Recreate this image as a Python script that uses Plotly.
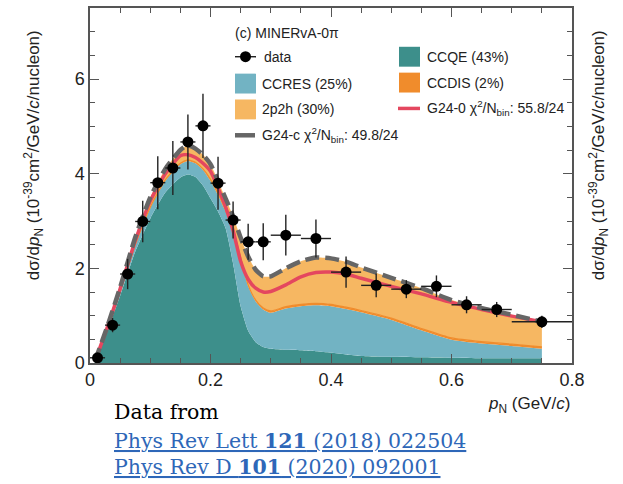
import plotly.graph_objects as go

# ---------------- data ----------------
# MINERvA-0pi data points: bin centres, half widths, values, errors
data_x = [0.0125, 0.0375, 0.0625, 0.0875, 0.1125, 0.1375, 0.1625, 0.1875, 0.2125, 0.2375,
          0.2625, 0.2875, 0.325, 0.375, 0.425, 0.475, 0.525, 0.575, 0.625, 0.675, 0.75]
data_xerr = [0.0125] * 12 + [0.025] * 8 + [0.05]
data_y = [0.11, 0.80, 1.88, 2.99, 3.81, 4.12, 4.67, 5.01, 3.80, 3.02,
          2.56, 2.56, 2.70, 2.63, 1.92, 1.64, 1.56, 1.62, 1.23, 1.13, 0.87]
data_yerr = [0.05, 0.15, 0.32, 0.44, 0.56, 0.57, 0.58, 0.68, 0.56, 0.39,
             0.38, 0.39, 0.43, 0.40, 0.33, 0.25, 0.19, 0.23, 0.18, 0.16, 0.13]

# model curves, stacked boundaries of G24-c
model_x = [0.008, 0.03, 0.05, 0.075, 0.1, 0.125, 0.15, 0.1625, 0.175, 0.1875, 0.2, 0.2125,
           0.225, 0.2375, 0.25, 0.2625, 0.275, 0.2875, 0.3, 0.325, 0.35, 0.375, 0.4, 0.425,
           0.45, 0.5, 0.55, 0.6, 0.65, 0.7, 0.75]
ccqe_top = [0.02, 0.72, 1.42, 2.35, 3.05, 3.6, 3.92, 3.98, 3.93, 3.75, 3.48, 3.2,
            2.85, 2.1, 1.2, 0.68, 0.44, 0.34, 0.3, 0.28, 0.27, 0.25, 0.22, 0.18,
            0.15, 0.13, 0.12, 0.11, 0.1, 0.1, 0.1]
ccres_top = [0.02, 0.75, 1.48, 2.47, 3.27, 3.85, 4.2, 4.27, 4.22, 4.08, 3.85, 3.55,
             3.2, 2.8, 2.2, 1.62, 1.3, 1.13, 1.06, 1.15, 1.2, 1.22, 1.2, 1.14,
             1.07, 0.91, 0.69, 0.49, 0.41, 0.36, 0.3]
ccdis_top = [0.02, 0.76, 1.5, 2.49, 3.29, 3.87, 4.22, 4.29, 4.24, 4.1, 3.88, 3.58,
             3.23, 2.83, 2.23, 1.65, 1.33, 1.16, 1.1, 1.19, 1.24, 1.26, 1.24, 1.18,
             1.11, 0.95, 0.73, 0.53, 0.45, 0.4, 0.34]
g24c_total = [0.03, 0.82, 1.6, 2.65, 3.5, 4.1, 4.5, 4.6, 4.53, 4.4, 4.2, 3.85,
              3.48, 3.1, 2.65, 2.25, 1.97, 1.83, 1.83, 2.0, 2.15, 2.23, 2.21, 2.14,
              2.02, 1.8, 1.58, 1.33, 1.16, 1.02, 0.87]
g240_total = [0.03, 0.8, 1.57, 2.58, 3.42, 4.0, 4.38, 4.4, 4.34, 4.22, 4.05, 3.7,
              3.3, 2.8, 2.15, 1.77, 1.58, 1.5, 1.51, 1.65, 1.82, 1.91, 1.92, 1.88,
              1.79, 1.62, 1.46, 1.28, 1.13, 0.99, 0.87]

x_ticks = [0, 0.2, 0.4, 0.6, 0.8]
x_tick_labels = ["0", "0.2", "0.4", "0.6", "0.8"]
y_ticks = [0, 2, 4, 6]
y_tick_labels = ["0", "2", "4", "6"]

# ---------------- style ----------------
C_QE = "#3d8f8b"
C_RES = "#72b3c3"
C_DIS = "#f08c2c"
C_2P2H = "#f6b762"
C_RED = "#e4475f"
C_GREY = "#666666"
FONT = "Liberation Sans"

W, H = 623, 484
L, R, T, B = 90, 51, 6, 121
PW, PH = W - L - R, H - T - B


def px(x):
    return (x - L) / PW


def py(y):
    return (H - B - y) / PH


fig = go.Figure()
sm = 0.55
fig.add_trace(go.Scatter(x=model_x, y=ccqe_top, mode="lines", line=dict(width=0, shape="spline", smoothing=sm),
                         fill="tozeroy", fillcolor=C_QE, showlegend=False, hoverinfo="skip"))
fig.add_trace(go.Scatter(x=model_x, y=ccres_top, mode="lines", line=dict(width=0, shape="spline", smoothing=sm),
                         fill="tonexty", fillcolor=C_RES, showlegend=False, hoverinfo="skip"))
fig.add_trace(go.Scatter(x=model_x, y=ccdis_top, mode="lines",
                         line=dict(width=1.2, color=C_DIS, shape="spline", smoothing=sm),
                         fill="tonexty", fillcolor=C_DIS, showlegend=False, hoverinfo="skip"))
fig.add_trace(go.Scatter(x=model_x, y=g24c_total, mode="lines", line=dict(width=0, shape="spline", smoothing=sm),
                         fill="tonexty", fillcolor=C_2P2H, showlegend=False, hoverinfo="skip"))
fig.add_trace(go.Scatter(x=model_x, y=g240_total, mode="lines",
                         line=dict(width=3.5, color=C_RED, shape="spline", smoothing=sm),
                         showlegend=False, hoverinfo="skip"))
fig.add_trace(go.Scatter(x=model_x, y=g24c_total, mode="lines",
                         line=dict(width=4.5, color=C_GREY, dash="14px,6px", shape="spline", smoothing=sm),
                         showlegend=False, hoverinfo="skip"))
fig.add_trace(go.Scatter(x=data_x, y=data_y, mode="markers",
                         marker=dict(size=11, color="black"),
                         error_y=dict(type="data", array=data_yerr, color="#222", thickness=1.4, width=0),
                         error_x=dict(type="data", array=data_xerr, color="#222", thickness=1.4, width=0),
                         showlegend=False))

axis_common = dict(showline=True, linecolor="#555", linewidth=1.5, mirror="ticks",
                   ticks="inside", ticklen=9, tickwidth=1.3, tickcolor="#555",
                   showgrid=False, zeroline=False,
                   tickfont=dict(family=FONT, size=18, color="#222"))
fig.update_xaxes(range=[0, 0.8], tickvals=x_ticks, ticktext=x_tick_labels,
                 minor=dict(ticks="inside", ticklen=5, dtick=0.05, tickcolor="#555", tickwidth=1.1),
                 **axis_common)
fig.update_yaxes(range=[0, 7.5], tickvals=y_ticks, ticktext=y_tick_labels,
                 minor=dict(ticks="inside", ticklen=5, dtick=0.5, tickcolor="#555", tickwidth=1.1),
                 **axis_common)

ytitle = "dσ/d<i>p</i><sub>N</sub> (10<sup>-39</sup>cm<sup>2</sup>/GeV/<i>c</i>/nucleon)"
ann = [
    dict(text=ytitle, x=px(33), y=py(154), textangle=-90, showarrow=False, xref="paper", yref="paper",
         font=dict(family=FONT, size=17, color="#222"), xanchor="center", yanchor="middle"),
    dict(text=ytitle, x=px(598), y=py(154), textangle=-90, showarrow=False, xref="paper", yref="paper",
         font=dict(family=FONT, size=17, color="#222"), xanchor="center", yanchor="middle"),
    dict(text="<i>p</i><sub>N</sub> (GeV/<i>c</i>)", x=px(572), y=py(405), showarrow=False,
         xref="paper", yref="paper", xanchor="right", yanchor="middle",
         font=dict(family=FONT, size=17, color="#222")),
    dict(text="Data from", x=px(112), y=py(412), showarrow=False, xref="paper", yref="paper",
         xanchor="left", yanchor="middle", font=dict(family="DejaVu Serif", size=20.5, color="black")),
    dict(text="<u>Phys Rev Lett <b>121</b> (2018) 022504</u>", x=px(112), y=py(441), showarrow=False,
         xref="paper", yref="paper", xanchor="left", yanchor="middle",
         font=dict(family="DejaVu Serif", size=20.5, color="#2e67b8")),
    dict(text="<u>Phys Rev D <b>101</b> (2020) 092001</u>", x=px(112), y=py(468), showarrow=False,
         xref="paper", yref="paper", xanchor="left", yanchor="middle",
         font=dict(family="DejaVu Serif", size=20.5, color="#2e67b8")),
]

# legend (drawn in paper space)
LF = dict(family=FONT, size=14, color="#222")
leg_items = [
    ("(c) MINERvA-0π", 233, 31),
    ("data", 262, 55),
    ("CCRES (25%)", 260, 82),
    ("2p2h (30%)", 260, 108),
    ("G24-c χ<sup>2</sup>/N<sub>bin</sub>: 49.8/24", 260, 134),
    ("CCQE (43%)", 425, 55),
    ("CCDIS (2%)", 425, 81),
    ("G24-0 χ<sup>2</sup>/N<sub>bin</sub>: 55.8/24", 425, 107),
]
for t, xx, yy in leg_items:
    ann.append(dict(text=t, x=px(xx), y=py(yy), showarrow=False, xref="paper", yref="paper",
                    xanchor="left", yanchor="middle", font=LF))

shapes = []


def square(x0, yc, color):
    shapes.append(dict(type="rect", xref="paper", yref="paper", x0=px(x0), x1=px(x0 + 21),
                       y0=py(yc + 10), y1=py(yc - 10), fillcolor=color, line=dict(width=0)))


square(235, 82, C_RES)
square(235, 108, C_2P2H)
square(399, 55, C_QE)
square(399, 81, C_DIS)
shapes.append(dict(type="line", xref="paper", yref="paper", x0=px(235), x1=px(256), y0=py(55), y1=py(55),
                   line=dict(color="#222", width=1.4)))
shapes.append(dict(type="circle", xref="paper", yref="paper", x0=px(240), x1=px(251), y0=py(60.5), y1=py(49.5),
                   fillcolor="black", line=dict(width=0)))
shapes.append(dict(type="line", xref="paper", yref="paper", x0=px(235), x1=px(255), y0=py(134), y1=py(134),
                   line=dict(color=C_GREY, width=4.5)))
shapes.append(dict(type="line", xref="paper", yref="paper", x0=px(398), x1=px(420), y0=py(107), y1=py(107),
                   line=dict(color=C_RED, width=3.5)))

fig.update_layout(width=W, height=H, margin=dict(l=L, r=R, t=T, b=B),
                  paper_bgcolor="white", plot_bgcolor="white",
                  annotations=ann, shapes=shapes, showlegend=False,
                  font=dict(family=FONT))

fig.write_html("out.html")
